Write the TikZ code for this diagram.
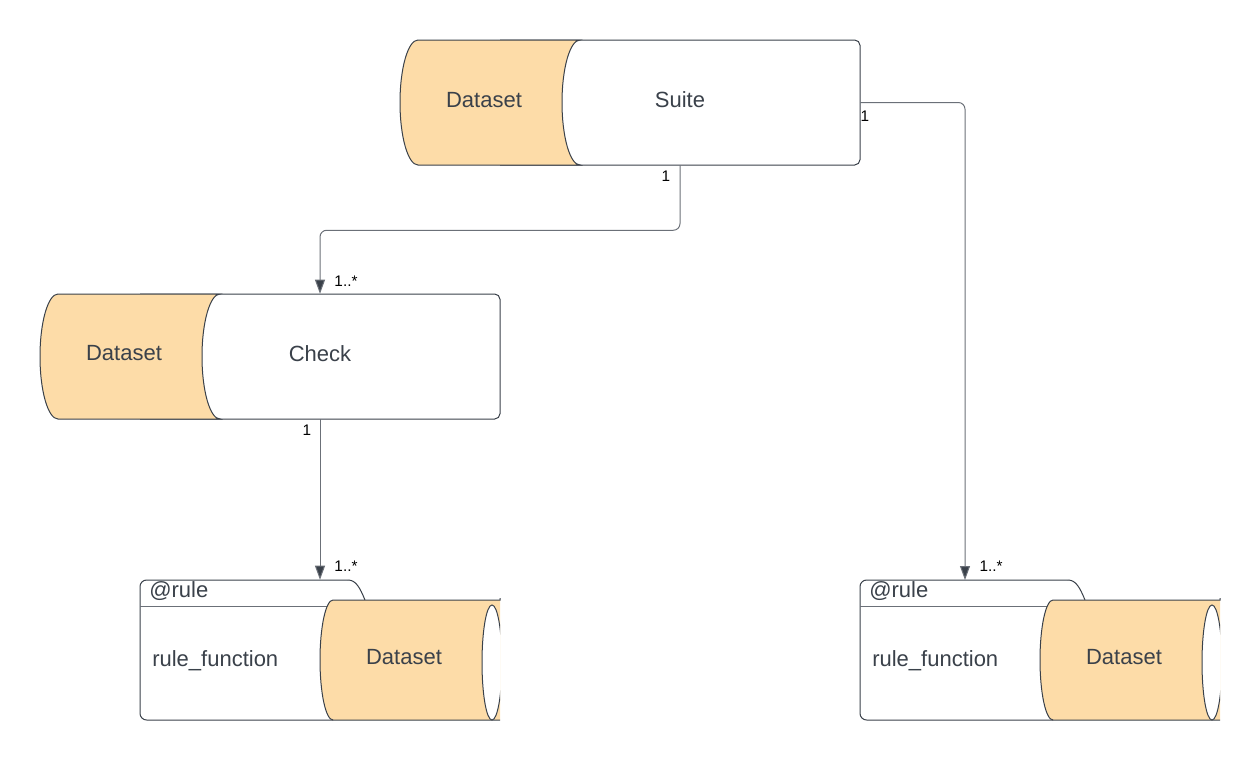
\documentclass[tikz,border=0pt]{standalone}
\usepackage{fontspec}
\setmainfont{Liberation Sans}
\usetikzlibrary{fit,arrows.meta}
\definecolor{ds}{HTML}{FDDCA8}
\definecolor{ln}{HTML}{6B7078}
\definecolor{tx}{HTML}{3A414A}
\tikzset{
  shapeline/.style={draw=tx, line width=0.75pt},
  boxfit/.style={inner sep=0pt, draw=none},
  big/.style={text=tx, font=\fontsize{16.5}{18}\selectfont, inner sep=0pt},
  mid/.style={text=tx, font=\fontsize{16.5}{18}\selectfont, inner sep=0pt},
  card/.style={text=black, font=\fontsize{11.5}{12}\selectfont, inner sep=0pt},
  conn/.style={draw=ln, line width=0.75pt, rounded corners=5pt,
    -{Triangle[length=10.5pt,width=7.5pt,fill=tx]}},
  poolbox/.pic={
    \path[shapeline, fill=white, rounded corners=4pt] (100,0) -- (460,0) -- (460,125) -- (100,125);
    \path[shapeline, fill=ds] (18,0) -- (180,0)
      .. controls (170.06,0) and (162,27.98) .. (162,62.5)
      .. controls (162,97.02) and (170.06,125) .. (180,125) -- (18,125)
      .. controls (8.06,125) and (0,97.02) .. (0,62.5)
      .. controls (0,27.98) and (8.06,0) .. (18,0) -- cycle;
  },
  rulebox/.pic={
    \path[fill=white] (0,140) -- (0,0) -- (208,0) .. controls (216,0) and (220,8) .. (225,20)
      -- (360,20) -- (360,140) -- cycle;
    \draw[shapeline, rounded corners=5pt] (193,140) -- (0,140) -- (0,0) -- (208,0);
    \draw[shapeline] (208,0) .. controls (216,0) and (220,8) .. (225,20);
    \draw[draw=ln, line width=0.75pt] (0,26) -- (200,26);
    \path[fill=ds] (193,20) -- (360,20) -- (360,140) -- (193,140)
      .. controls (185.82,140) and (180,113.14) .. (180,80)
      .. controls (180,46.86) and (185.82,20) .. (193,20) -- cycle;
    \draw[shapeline] (360,140) -- (193,140)
      .. controls (185.82,140) and (180,113.14) .. (180,80)
      .. controls (180,46.86) and (185.82,20) .. (193,20) -- (360,20) -- (360,18);
    \begin{scope}
      \clip (0,-5) rectangle (360,150);
      \draw[shapeline, fill=white] (352,82.5) ellipse [x radius=10, y radius=57.5];
    \end{scope}
  }
}
\begin{document}
\begin{tikzpicture}[x=0.75pt, y=-0.75pt]
\useasboundingbox (0,0) rectangle (1260,760);

% shapes
\pic at (400,40) {poolbox};
\pic at (40,294) {poolbox};
\pic at (140,580) {rulebox};
\pic at (860,580) {rulebox};

% named boxes
\node[boxfit, fit={(400,40) (860,165)}] (suite) {};
\node[boxfit, fit={(40,294) (500,419)}] (check) {};
\node[boxfit, fit={(140,580) (500,720)}] (rulea) {};
\node[boxfit, fit={(860,580) (1220,720)}] (ruleb) {};

% texts
\node[big] (suiteds) at (484,100) {Dataset};
\node[big] (suitetxt) at (680,100) {Suite};
\node[big] (checkds) at (124,353) {Dataset};
\node[big] (checktxt) at (320,354) {Check};
\node[mid, anchor=west] (ruleatag) at (149,591) {@rule};
\node[mid, anchor=west] (ruleafn) at (152,661) {rule\_function};
\node[big] (ruleads) at (404,657) {Dataset};
\node[mid, anchor=west] (rulebtag) at (869,591) {@rule};
\node[mid, anchor=west] (rulebfn) at (872,661) {rule\_function};
\node[big] (rulebds) at (1124,657) {Dataset};

\coordinate (rbin) at (965,580);

% connectors
\draw[conn] (suitetxt |- suite.south) -- ++(0,65) -| (checktxt |- check.north);
\draw[conn] (suite.east) -| (rbin);
\draw[conn] (checktxt |- check.south) -- (checktxt |- rulea.north);

% multiplicities
\node[card] (m1) at (666,176) {1};
\node[card] (m2) at (346,281) {1..*};
\node[card] (m3) at (865,116) {1};
\node[card] (m4) at (991,566) {1..*};
\node[card] (m5) at (307,430) {1};
\node[card] (m6) at (346,566) {1..*};
\end{tikzpicture}
\end{document}
